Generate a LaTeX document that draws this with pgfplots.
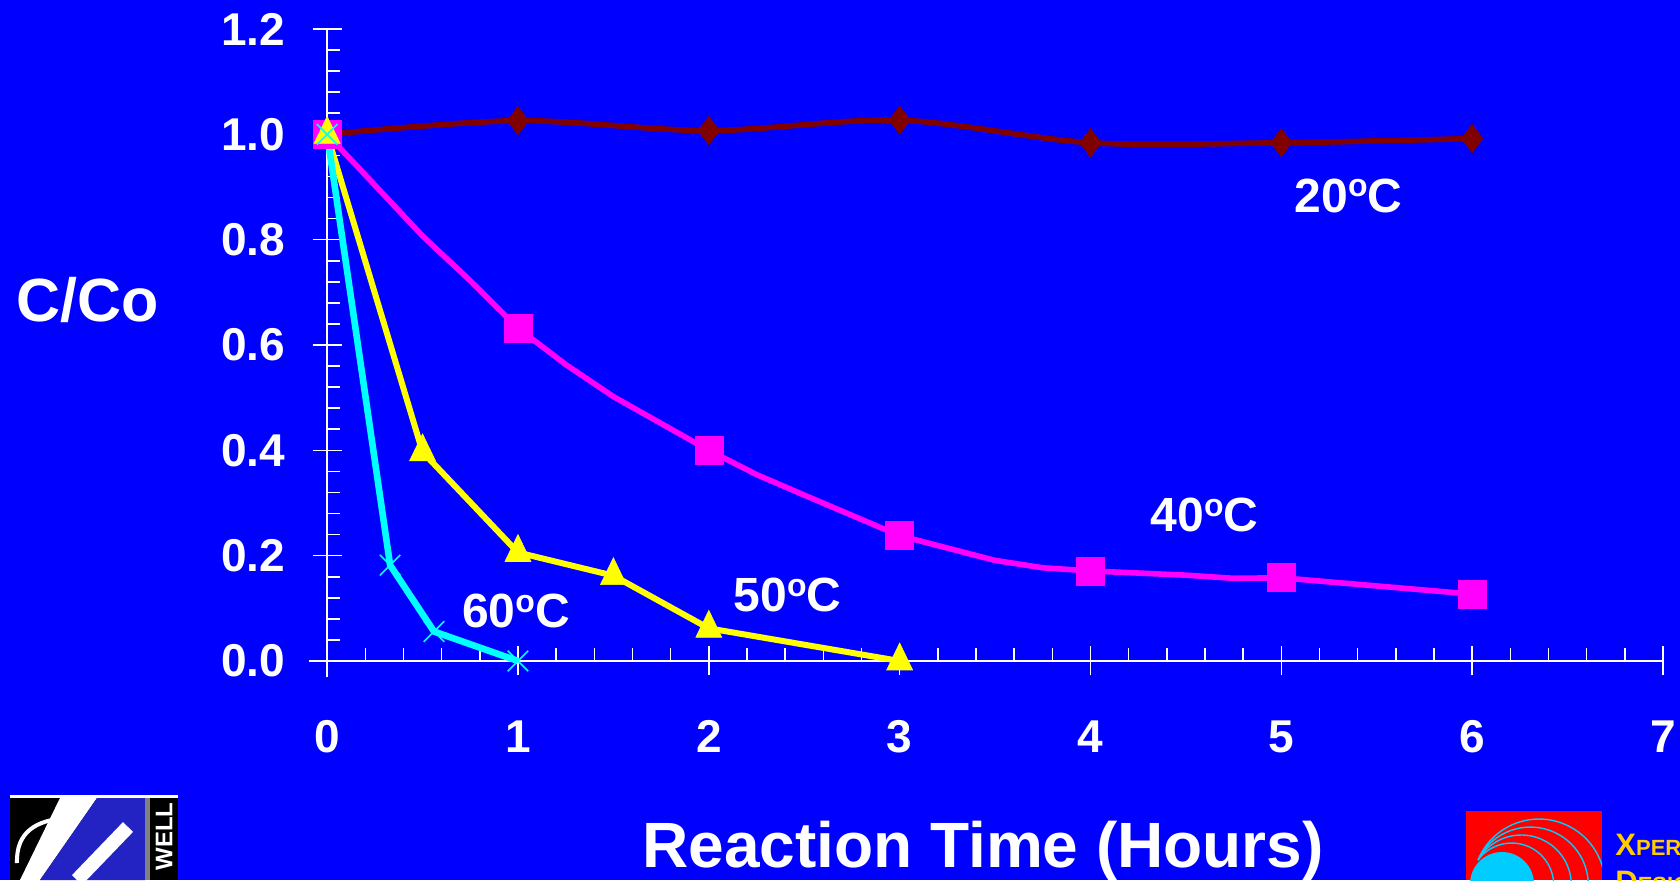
\documentclass[border=0pt]{standalone}
\usepackage{pgfplots}
\pgfplotsset{compat=1.18}
\usepackage{fontspec}
\setmainfont{Liberation Sans}
\definecolor{bg}{RGB}{0,0,255}
\definecolor{darkred}{RGB}{128,0,0}
\definecolor{mag}{RGB}{255,0,255}
\definecolor{yel}{RGB}{255,255,0}
\definecolor{cya}{RGB}{0,255,255}
\definecolor{gold}{RGB}{255,204,0}
\definecolor{logocyan}{RGB}{0,204,255}
\definecolor{logoblue}{RGB}{35,35,195}
\newcommand{\degsup}{\raisebox{7.6pt}{\fontsize{16}{16}\selectfont o}}
\begin{document}
\begin{tikzpicture}[x=1pt,y=1pt]
\fill[bg] (0,0) rectangle (840,440);
\useasboundingbox (0,0) rectangle (840,440);

\begin{axis}[
  at={(154.5pt,101.5pt)}, anchor=south west,
  scale only axis, width=677pt, height=324pt,
  xmin=-0.095, xmax=7, ymin=-0.0304, ymax=1.2,
  axis lines=middle,
  axis line style={white, line width=1pt, -},
  xtick={0,1,2,3,4,5,6,7},
  ytick={0,0.2,0.4,0.6,0.8,1.0,1.2},
  minor x tick num=4, minor y tick num=4,
  tick align=center,
  major tick length=14.5pt, minor tick length=6.5pt,
  tick style={white, line width=0.8pt},
  minor x tick style={yshift=3.25pt},
  minor y tick style={xshift=3.25pt},
  hide obscured x ticks=false, hide obscured y ticks=false,
  /pgf/number format/assume math mode=true,
  yticklabel style={font=\bfseries\fontsize{23}{23}\selectfont, text=white, anchor=east, xshift=-10.3pt,
    /pgf/number format/.cd, fixed, fixed zerofill, precision=1},
  xticklabel style={font=\bfseries\fontsize{23}{23}\selectfont, text=white, anchor=center, yshift=-30.5pt},
  clip=false,
]
% 20 C
\addplot[darkred, line width=2.8pt, smooth, tension=0.5, mark=diamond*, mark size=7pt,
  mark options={solid, fill=darkred, draw=darkred, line width=0.4pt}]
  coordinates {(0,1.0)(1,1.026)(2,1.007)(3,1.027)(4,0.984)(5,0.984)(6,0.992)};
% 40 C line
\addplot[mag, line width=2.8pt, no markers]
  coordinates {(0,1.0)(0.5,0.807)(0.75,0.722)(1,0.632)(1.25,0.563)(1.5,0.502)(2,0.40)(2.25,0.354)(2.5,0.315)(3,0.238)(3.5,0.191)(3.75,0.177)(4,0.171)(4.5,0.163)(4.75,0.157)(5,0.158)(6,0.127)};
% 40 C markers
\addplot[only marks, mark=square*, mark size=7pt, mag, mark options={fill=mag, draw=mag, line width=0.3pt}]
  coordinates {(0,1.0)(1,0.632)(2,0.40)(3,0.238)(4,0.171)(5,0.158)(6,0.127)};
% 50 C
\addplot[yel, line width=3pt, mark=triangle*, mark size=7.5pt,
  mark options={solid, fill=yel, draw=yel, line width=0.3pt, yscale=1.2}]
  coordinates {(0,1.0)(0.5,0.397)(1,0.206)(1.5,0.162)(2,0.062)(3,0.0)};
% 60 C
\addplot[cya, line width=3.3pt, mark=x, mark size=7.25pt,
  mark options={solid, draw=cya, line width=0.8pt}]
  coordinates {(0,1.0)(0.33,0.182)(0.56,0.056)(1,0.0)};

\node[anchor=base, text=white, font=\bfseries\fontsize{24}{24}\selectfont] at (axis cs:5.352,0.8525) {20\degsup C};
\node[anchor=base, text=white, font=\bfseries\fontsize{24}{24}\selectfont] at (axis cs:4.598,0.2455) {40\degsup C};
\node[anchor=base, text=white, font=\bfseries\fontsize{24}{24}\selectfont] at (axis cs:2.413,0.0934) {50\degsup C};
\node[anchor=base, text=white, font=\bfseries\fontsize{24}{24}\selectfont] at (axis cs:0.989,0.064) {60\degsup C};
\end{axis}

% axis titles
\node[text=white, font=\bfseries\fontsize{30.5}{30.5}\selectfont] at (44,290) {C/Co};
\node[anchor=base, text=white, font=\bfseries\fontsize{32}{32}\selectfont] at (491.5,6.5) {Reaction Time (Hours)};

% left logo
\fill[white] (5,0) rectangle (89,42.5);
\fill[black] (5,0) rectangle (72.5,41);
\fill[white] (30,41) -- (48.5,41) -- (20,0) -- (10,0) -- cycle;
\fill[logoblue] (48.5,41) -- (72.5,41) -- (72.5,0) -- (20,0) -- cycle;
\draw[white, line width=2pt] (33.5,31) .. controls (18,30) and (8,24) .. (8.5,8.5);
\draw[white, line width=7pt] (64,26.5) -- (38.5,0);
\fill[gray] (72.5,0) rectangle (75,41);
\fill[black] (75,0) rectangle (89,41);
\node[rotate=90, anchor=east, text=white, font=\bfseries\fontsize{12}{12}\selectfont, inner sep=0pt] at (82,39) {WELL};

% right logo
\fill[red] (733,0) rectangle (801,34.5);
\begin{scope}
\clip (733,0) rectangle (801,34.5);
\fill[logocyan] (751,-2) circle[radius=16];
\draw[logocyan, line width=0.7pt] (739,10) arc[start angle=143.4, end angle=-10, radius=21];
\draw[logocyan, line width=0.7pt] (739,10) arc[start angle=150, end angle=-10, radius=25];
\draw[logocyan, line width=0.7pt] (739,10) arc[start angle=154.4, end angle=-10, radius=29];
\draw[logocyan, line width=0.7pt] (739,10) arc[start angle=157.7, end angle=-10, radius=33];
\end{scope}
\node[anchor=base west, text=gold, font=\bfseries, inner sep=0pt] at (807.5,12.5) {\fontsize{15.5}{15.5}\selectfont X\fontsize{11}{11}\selectfont PERT};
\node[anchor=base west, text=gold, font=\bfseries, inner sep=0pt] at (807.5,-6) {\fontsize{15.5}{15.5}\selectfont D\fontsize{11}{11}\selectfont ESIGN};
\end{tikzpicture}
\end{document}
